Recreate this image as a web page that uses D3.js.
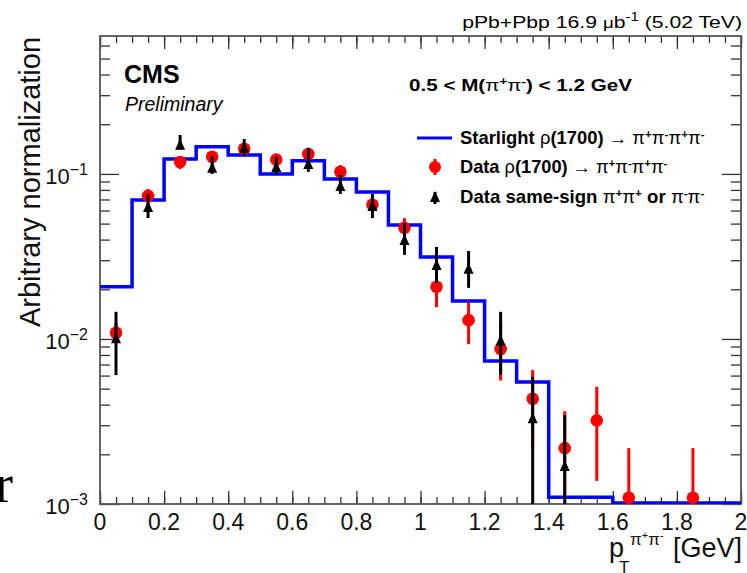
<!DOCTYPE html>
<html>
<head>
<meta charset="utf-8">
<script src="https://d3js.org/d3.v7.min.js"></script>
<style>
  html, body { margin: 0; padding: 0; background: #fff; }
  svg { display: block; }
</style>
</head>
<body>
<svg id="chart" width="747" height="573"></svg>
<script>
// Starlight histogram: bin edges and contents
const binEdges = [0, 0.1, 0.2, 0.3, 0.4, 0.5, 0.6, 0.7, 0.8, 0.9, 1.0,
                  1.1, 1.2, 1.3, 1.4, 1.5, 1.6, 1.7, 1.8, 1.9, 2.0];
const starlight = [0.0207, 0.0695, 0.123, 0.146, 0.130, 0.100, 0.120, 0.093, 0.0778, 0.049,
                   0.0314, 0.0170, 0.00736, 0.00548, 0.0011, 0.0011, 0, 0, 0, 0];

// Data rho(1700) -> 4pi (red)
const redX  = [0.05, 0.15, 0.25, 0.35, 0.45, 0.55, 0.65, 0.75, 0.85, 0.95,
               1.05, 1.15, 1.25, 1.35, 1.45, 1.55, 1.65, 1.85];
const redY  = [0.0109, 0.0736, 0.118, 0.127, 0.142, 0.122, 0.132, 0.103, 0.065, 0.0471,
               0.0207, 0.0130, 0.0087, 0.00434, 0.00218, 0.00321, 0.00109, 0.00109];
const redLo = [0.0095, 0.066, 0.107, 0.119, 0.134, 0.114, 0.124, 0.096, 0.058, 0.042,
               0.0156, 0.0093, 0.0056, 0.0022, 0.0011, 0.00138, 0.0008, 0.0008];
const redHi = [0.0125, 0.081, 0.128, 0.135, 0.150, 0.130, 0.140, 0.113, 0.072, 0.054,
               0.027, 0.0168, 0.0125, 0.00648, 0.00365, 0.00513, 0.00218, 0.00218];

// Data same-sign (black)
const ssX  = [0.05, 0.15, 0.25, 0.35, 0.45, 0.55, 0.65, 0.75, 0.85, 0.95,
              1.05, 1.15, 1.25, 1.35, 1.45];
const ssY  = [0.0101, 0.063, 0.150, 0.109, 0.144, 0.110, 0.115, 0.0846, 0.064, 0.0398,
              0.0281, 0.0266, 0.0098, 0.00331, 0.00170];
const ssLo = [0.00604, 0.054, 0.140, 0.100, 0.130, 0.100, 0.103, 0.0757, 0.054, 0.0323,
              0.0219, 0.0204, 0.00606, 0.0005, 0.0005];
const ssHi = [0.0146, 0.0757, 0.172, 0.128, 0.163, 0.127, 0.144, 0.0986, 0.0757, 0.0505,
              0.0361, 0.0341, 0.0146, 0.0059, 0.00346];

const xMajor = [0, 0.2, 0.4, 0.6, 0.8, 1, 1.2, 1.4, 1.6, 1.8, 2];
const xLabels = ['0', '0.2', '0.4', '0.6', '0.8', '1', '1.2', '1.4', '1.6', '1.8', '2'];
const yMajor = [0.001, 0.01, 0.1];
const yLabels = ['−3', '−2', '−1'];

const FONT = '"Liberation Sans", Arial, Helvetica, sans-serif';
const svg = d3.select('#chart');

const pL = 100, pR = 741, pT = 36, pB = 504;
const x = d3.scaleLinear().domain([0, 2]).range([pL, pR]);
const y = d3.scaleLog().domain([0.001, 0.685]).range([pB, pT]);
const yc = v => y(Math.max(v, 0.001));

// minor ticks
const xMinor = d3.range(0, 2.0001, 0.05).map(v => +v.toFixed(2));
const yMinor = [];
[0.001, 0.01, 0.1].forEach(d => { for (let k = 2; k <= 9; k++) { const v = d * k; if (v < 0.685) yMinor.push(v); } });

function styleAxis(g) {
    g.select('.domain').remove();
    g.selectAll('line').attr('stroke', '#333').attr('stroke-width', 1.3);
}

svg.append('g').attr('transform', `translate(0,${pB})`)
    .call(d3.axisBottom(x).tickValues(xMinor).tickSize(-7).tickFormat('')).call(styleAxis);
svg.append('g').attr('transform', `translate(0,${pB})`)
    .call(d3.axisBottom(x).tickValues(xMajor).tickSize(-13).tickFormat('')).call(styleAxis);
svg.append('g').attr('transform', `translate(0,${pT})`)
    .call(d3.axisTop(x).tickValues(xMinor).tickSize(-7).tickFormat('')).call(styleAxis);
svg.append('g').attr('transform', `translate(0,${pT})`)
    .call(d3.axisTop(x).tickValues(xMajor).tickSize(-13).tickFormat('')).call(styleAxis);
svg.append('g').attr('transform', `translate(${pL},0)`)
    .call(d3.axisLeft(y).tickValues(yMinor).tickSize(-10).tickFormat('')).call(styleAxis);
svg.append('g').attr('transform', `translate(${pL},0)`)
    .call(d3.axisLeft(y).tickValues(yMajor).tickSize(-19).tickFormat('')).call(styleAxis);
svg.append('g').attr('transform', `translate(${pR},0)`)
    .call(d3.axisRight(y).tickValues(yMinor).tickSize(-10).tickFormat('')).call(styleAxis);
svg.append('g').attr('transform', `translate(${pR},0)`)
    .call(d3.axisRight(y).tickValues(yMajor).tickSize(-19).tickFormat('')).call(styleAxis);

// frame
svg.append('rect')
    .attr('x', pL).attr('y', pT)
    .attr('width', pR - pL).attr('height', pB - pT)
    .attr('fill', 'none').attr('stroke', '#555').attr('stroke-width', 1.8);

// x tick labels
svg.append('g').selectAll('text').data(xMajor).join('text')
    .attr('x', d => x(d)).attr('y', 530)
    .attr('text-anchor', 'middle')
    .attr('font-family', FONT).attr('font-size', 23).attr('fill', '#111')
    .text((d, i) => xLabels[i]);

// y tick labels 10^n
const yl = svg.append('g').selectAll('text').data(yMajor).join('text')
    .attr('x', 88).attr('y', d => y(d) + 10)
    .attr('text-anchor', 'end')
    .attr('font-family', FONT).attr('fill', '#111');
yl.append('tspan').attr('font-size', 22).text('10');
yl.append('tspan').attr('font-size', 16).attr('dy', -9).text((d, i) => yLabels[i]);

// clip
svg.append('clipPath').attr('id', 'plot-clip')
    .append('rect').attr('x', pL).attr('y', pT).attr('width', pR - pL).attr('height', pB - pT);
const plot = svg.append('g').attr('clip-path', 'url(#plot-clip)');

// Starlight histogram as step line
const stepPts = [];
starlight.forEach((v, i) => {
    stepPts.push([binEdges[i], v]);
    stepPts.push([binEdges[i + 1], v]);
});
plot.append('path')
    .datum(stepPts)
    .attr('fill', 'none')
    .attr('stroke', '#0000ff')
    .attr('stroke-width', 3.5)
    .attr('d', d3.line().x(d => x(d[0])).y(d => yc(d[1]) - (d[1] <= 0.001 ? 1 : 0)));

// red data
plot.append('g').selectAll('line').data(redX).join('line')
    .attr('x1', d => x(d)).attr('x2', d => x(d))
    .attr('y1', (d, i) => yc(redLo[i])).attr('y2', (d, i) => y(redHi[i]))
    .attr('stroke', '#ff0000').attr('stroke-width', 3);
plot.append('g').selectAll('circle').data(redX).join('circle')
    .attr('cx', d => x(d)).attr('cy', (d, i) => y(redY[i]))
    .attr('r', 6.3).attr('fill', '#ff0000');

// black same-sign data
plot.append('g').selectAll('line').data(ssX).join('line')
    .attr('x1', d => x(d)).attr('x2', d => x(d))
    .attr('y1', (d, i) => y(ssLo[i])).attr('y2', (d, i) => y(ssHi[i]))
    .attr('stroke', '#000').attr('stroke-width', 3);
const tri = 'M0,-6L5,5L-5,5Z';
plot.append('g').selectAll('path').data(ssX).join('path')
    .attr('d', tri)
    .attr('transform', (d, i) => `translate(${x(d)},${y(ssY[i])})`)
    .attr('fill', '#000');

// rich text helper: segments [{t, b, sup, s}], stretched horizontally to span x0..x1
function rich(x0, x1, yp, size, segs, anchorEnd) {
    const t = svg.append('text')
        .attr('x', 0).attr('y', 0)
        .attr('font-family', FONT).attr('font-size', size).attr('fill', '#000')
        .attr('text-anchor', anchorEnd ? 'end' : 'start');
    let shift = 0;
    segs.forEach(s => {
        const target = s.sup ? -s.sup : 0;
        const ts = t.append('tspan').text(s.t)
            .attr('font-weight', s.b ? 'bold' : 'normal');
        if (s.s) ts.attr('font-size', s.s);
        if (target !== shift) { ts.attr('dy', target - shift); shift = target; }
    });
    const w = t.node().getBBox().width || 1;
    const sx = (x1 - x0) / w;
    t.attr('transform', `translate(${anchorEnd ? x1 : x0},${yp}) scale(${sx},1)`);
    return t;
}

// top label
rich(462, 742, 28, 17, [
    { t: 'pPb+Pbp 16.9 ' }, { t: 'μ', s: 15 }, { t: 'b' },
    { t: '-1', sup: 7, s: 12 }, { t: ' (5.02 TeV)' }
], true);

// CMS Preliminary
svg.append('text').attr('x', 124).attr('y', 83)
    .attr('font-family', FONT).attr('font-size', 25).attr('font-weight', 'bold').text('CMS');
svg.append('text').attr('x', 125).attr('y', 111)
    .attr('font-family', FONT).attr('font-size', 19.5).attr('font-style', 'italic').text('Preliminary');

// mass window
rich(409, 633, 91, 17, [
    { t: '0.5 < M(', b: 1 }, { t: 'π' }, { t: '+', sup: 6, s: 11, b: 1 },
    { t: 'π' }, { t: '-', sup: 6, s: 11, b: 1 }, { t: ') < 1.2 GeV', b: 1 }
]);

// legend
const legX = 460;
svg.append('line').attr('x1', 417).attr('x2', 452).attr('y1', 138).attr('y2', 138)
    .attr('stroke', '#0000ff').attr('stroke-width', 3);
svg.append('line').attr('x1', 435).attr('x2', 435).attr('y1', 159).attr('y2', 175)
    .attr('stroke', '#ff0000').attr('stroke-width', 3);
svg.append('circle').attr('cx', 435).attr('cy', 167).attr('r', 6).attr('fill', '#ff0000');
svg.append('line').attr('x1', 435).attr('x2', 435).attr('y1', 192).attr('y2', 204)
    .attr('stroke', '#000').attr('stroke-width', 3);
svg.append('path').attr('d', tri).attr('transform', 'translate(435,197)').attr('fill', '#000');

const fourPi = [
    { t: 'π' }, { t: '+', sup: 6, s: 11, b: 1 }, { t: 'π' }, { t: '-', sup: 6, s: 11, b: 1 },
    { t: 'π' }, { t: '+', sup: 6, s: 11, b: 1 }, { t: 'π' }, { t: '-', sup: 6, s: 11, b: 1 }
];
rich(legX, 705, 144, 17.5, [
    { t: 'Starlight ', b: 1 }, { t: 'ρ' }, { t: '(1700) ', b: 1 }, { t: '→ ' }
].concat(fourPi));
rich(legX, 668, 173, 17.5, [
    { t: 'Data ', b: 1 }, { t: 'ρ' }, { t: '(1700) ', b: 1 }, { t: '→ ' }
].concat(fourPi));
rich(legX, 705, 203, 17.5, [
    { t: 'Data same-sign ', b: 1 },
    { t: 'π' }, { t: '+', sup: 6, s: 11, b: 1 }, { t: 'π' }, { t: '+', sup: 6, s: 11, b: 1 },
    { t: ' or ', b: 1 },
    { t: 'π' }, { t: '-', sup: 6, s: 11, b: 1 }, { t: 'π' }, { t: '-', sup: 6, s: 11, b: 1 }
]);

// y axis title
svg.append('text')
    .attr('transform', 'translate(40,182) rotate(-90)')
    .attr('text-anchor', 'middle')
    .attr('font-family', FONT).attr('font-size', 29).attr('fill', '#111')
    .text('Arbitrary normalization');

// x axis title p_T^{pi+pi-} [GeV]
const xt = svg.append('g').attr('font-family', FONT).attr('fill', '#111');
xt.append('text').attr('x', 609).attr('y', 557).attr('font-size', 27).text('p');
xt.append('text').attr('x', 619).attr('y', 573).attr('font-size', 17).text('T');
const sup = xt.append('text').attr('x', 630).attr('y', 545).attr('font-size', 17);
sup.append('tspan').text('π');
sup.append('tspan').attr('font-size', 11).attr('dy', -6).text('+');
sup.append('tspan').attr('dy', 6).text('π');
sup.append('tspan').attr('font-size', 11).attr('dy', -6).text('-');
xt.append('text').attr('x', 742).attr('y', 557).attr('font-size', 27)
    .attr('text-anchor', 'end').text('[GeV]');

// stray cropped letter at left edge
svg.append('text').attr('x', -5).attr('y', 502)
    .attr('font-family', '"Liberation Serif", "Times New Roman", serif')
    .attr('font-size', 54).attr('fill', '#000').text('r');
</script>
</body>
</html>
